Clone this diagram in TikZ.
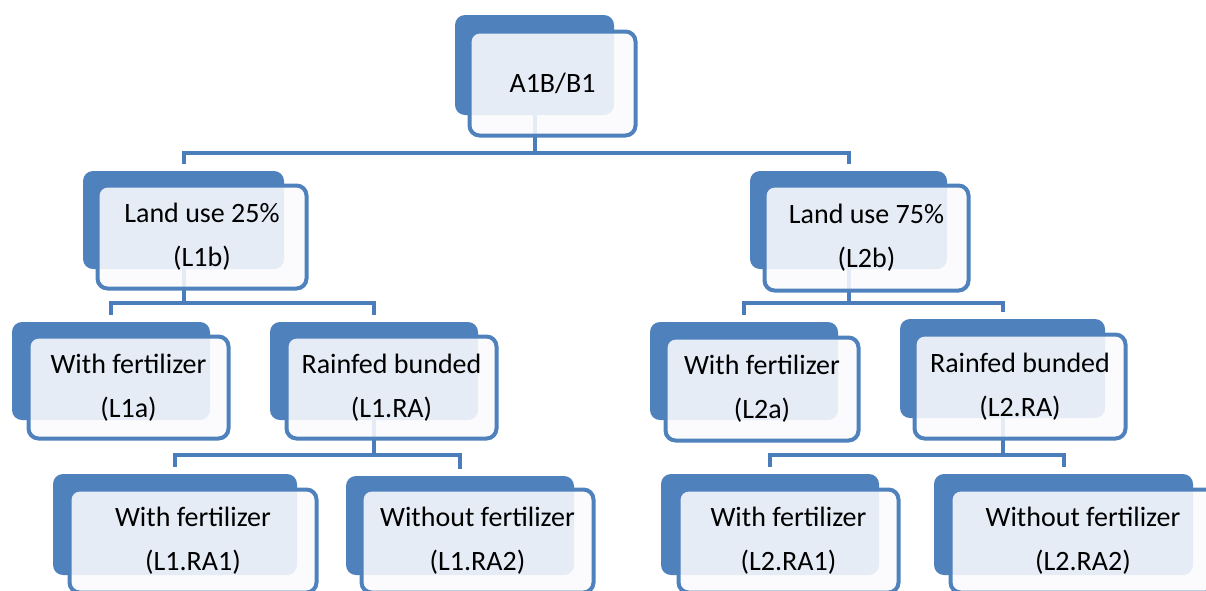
\documentclass[tikz,border=0pt]{standalone}
\usepackage{fontspec}
\setmainfont{Carlito}
\usetikzlibrary{positioning}
\definecolor{TreeBlue}{HTML}{4F81BD}
\definecolor{TreeLine}{HTML}{4A7DBA}
\definecolor{TreeFace}{HTML}{FAFBFD}

\begin{document}
\begin{tikzpicture}[x=1pt, y=-1pt,
    every node/.style={font=\fontsize{28}{44}\selectfont},
    backbox/.style={fill=TreeBlue, rounded corners=10pt, inner sep=0pt},
    frontbox/.style={draw=TreeBlue, line width=4pt, fill=TreeFace, fill opacity=0.88, text opacity=1, rounded corners=10pt, align=center, inner sep=0pt},
    link/.style={draw=TreeLine, line width=4pt, shorten >=7pt}]
    \useasboundingbox (0,0) rectangle (1206,590);
    \clip (0,0) rectangle (1206,590);

    % back plates
    \node[backbox, minimum width=159pt, minimum height=100pt] (topB) at (534.5,65) {};
    \node[backbox, minimum width=201pt, minimum height=98pt] (L1bB) at (183.5,220) {};
    \node[backbox, minimum width=197pt, minimum height=98pt] (L2bB) at (848.5,220) {};
    \node[backbox, minimum width=198pt, minimum height=98pt] (L1aB) at (111,371) {};
    \node[backbox, minimum width=208pt, minimum height=98pt] (L1RAB) at (374,371) {};
    \node[backbox, minimum width=188pt, minimum height=98pt] (L2aB) at (744,371) {};
    \node[backbox, minimum width=205pt, minimum height=99pt] (L2RAB) at (1002.5,368.5) {};
    \node[backbox, minimum width=244pt, minimum height=101pt] (L1RAoneB) at (175,524.5) {};
    \node[backbox, minimum width=228pt, minimum height=99pt] (L1RAtwoB) at (460,525.5) {};
    \node[backbox, minimum width=218pt, minimum height=101pt] (L2RAoneB) at (770,524.5) {};
    \node[backbox, minimum width=259pt, minimum height=101pt] (L2RAtwoB) at (1063.5,524.5) {};

    % connectors
    \draw[link] (topB.south) -- ++(0,38) -| (L1bB.north);
    \draw[link] (topB.south) -- ++(0,38) -| (L2bB.north);
    \draw[link] (L1bB.south) -- ++(0,34) -| (L1aB.north);
    \draw[link] (L1bB.south) -- ++(0,34) -| (L1RAB.north);
    \draw[link] (L2bB.south) -- ++(0,34) -| (L2aB.north);
    \draw[link] (L2bB.south) -- ++(0,34) -| (L2RAB.north);
    \draw[link] (L1RAB.south) -- ++(0,35) -| (L1RAoneB.north);
    \draw[link] (L1RAB.south) -- ++(0,35) -| (L1RAtwoB.north);
    \draw[link] (L2RAB.south) -- ++(0,37) -| (L2RAoneB.north);
    \draw[link] (L2RAB.south) -- ++(0,37) -| (L2RAtwoB.north);

    % front cards
    \node[frontbox, minimum width=166pt, minimum height=104pt] (top) at (552.5,83.5) {A1B/B1};
    \node[frontbox, minimum width=209pt, minimum height=103pt] (L1b) at (202,237) {Land use 25\%\\(L1b)};
    \node[frontbox, minimum width=204pt, minimum height=105pt] (L2b) at (866.5,238) {Land use 75\%\\(L2b)};
    \node[frontbox, minimum width=200pt, minimum height=102pt] (L1a) at (128.5,387.5) {With fertilizer\\(L1a)};
    \node[frontbox, minimum width=210pt, minimum height=102pt] (L1RA) at (391.5,387.5) {Rainfed bunded\\(L1.RA)};
    \node[frontbox, minimum width=193pt, minimum height=103pt] (L2a) at (762,389) {With fertilizer\\(L2a)};
    \node[frontbox, minimum width=211pt, minimum height=104pt] (L2RA) at (1020,386.5) {Rainfed bunded\\(L2.RA)};
    \node[frontbox, minimum width=247pt, minimum height=103pt] (L1RAone) at (193,541) {With fertilizer\\(L1.RA1)};
    \node[frontbox, minimum width=232pt, minimum height=103pt] (L1RAtwo) at (477.5,541) {Without fertilizer\\(L1.RA2)};
    \node[frontbox, minimum width=220pt, minimum height=103pt] (L2RAone) at (788.5,541) {With fertilizer\\(L2.RA1)};
    \node[frontbox, minimum width=265pt, minimum height=103pt] (L2RAtwo) at (1083,541) {Without fertilizer\\(L2.RA2)};
\end{tikzpicture}
\end{document}
